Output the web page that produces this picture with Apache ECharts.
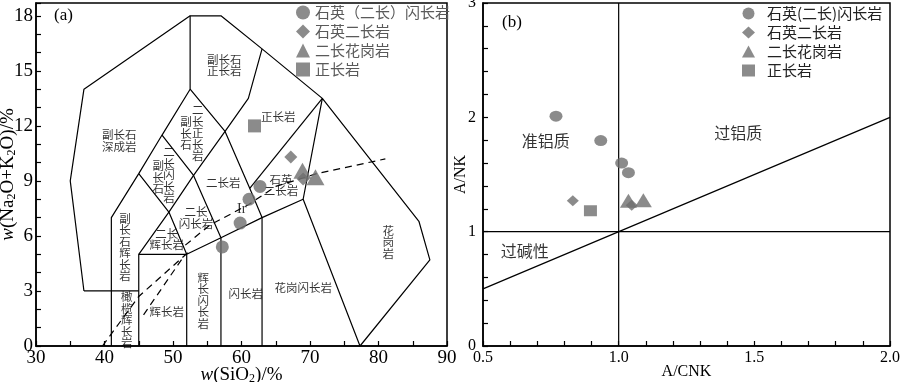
<!DOCTYPE html>
<html><head><meta charset="utf-8">
<script src="https://cdn.jsdelivr.net/npm/echarts@6.0.0/dist/echarts.min.js"></script>
<style>html,body{margin:0;padding:0;background:#fff}#c{width:900px;height:382px}</style>
</head><body><div id="c"></div>
<script>
// ---------------- DATA ----------------
// Panel (a): TAS (Middlemost 1994) field boundaries, SiO2 vs Na2O+K2O
const boundsA = [
  [[37,3],[35,9],[37,14],[52.5,18],[57,18],[63,16.2],[71.8,13.5],[85.9,6.8],[87.5,4.7],[77.3,0],[69,8],[71.8,13.5]],
  [[37,3],[45,3]],
  [[41,0],[41,7],[45,9.4],[48.4,11.5],[52.5,14],[52.5,18]],
  [[45,0],[45,5],[52,5],[52,0]],
  [[45,5],[49.4,7.3],[53,9.3],[57.6,11.7],[61,13.5],[63,16.2]],
  [[52,5],[49.4,7.3],[45,9.4]],
  [[48.4,11.5],[53,9.3],[57,5.9],[57,0]],
  [[52,5],[57,5.9],[63,7],[69,8]],
  [[52.5,14],[57.6,11.7],[61.2,8.6],[63,7],[63,0]],
  [[61.2,8.6],[71.8,13.5]]
];
const dashedA = [
  [[39.7,0],[45,2.7],[52.2,5.1]],
  [[45.7,1.7],[51.6,4.9]],
  [[51.8,5.5],[55.4,6.6],[61,7.7],[65,8.7],[71,9.4],[81,10.2]]
];
const fieldLabelsA = [
  [57.47,15.31,'副长石\n正长岩'],
  [65.37,12.48,'正长岩'],
  [42.14,11.19,'副长石\n深成岩'],
  [51.9,11.6,'副\n长\n石'],
  [53.6,11.62,'二\n长\n正\n长\n岩'],
  [47.85,9.18,'副\n长\n石'],
  [49.42,9.32,'二\n长\n闪\n长\n岩'],
  [57.35,8.89,'二长岩'],
  [65.77,8.78,'石英\n二长岩'],
  [43.0,5.4,'副\n长\n石\n辉\n长\n岩'],
  [53.36,7.0,'二长\n闪长岩'],
  [49.08,5.82,'二长\n辉长岩'],
  [43.24,1.42,'橄\n榄\n辉\n长\n岩'],
  [49.08,1.87,'辉长岩'],
  [54.43,2.5,'辉\n长\n闪\n长\n岩'],
  [60.63,2.87,'闪长岩'],
  [69.0,3.19,'花岗闪长岩'],
  [81.43,5.68,'花\n岗\n岩']
];
const irLabelA = [[60.03,7.44,'Ir']];
const namesA = ['石英（二长）闪长岩','石英二长岩','二长花岗岩','正长岩'];
const circA = [[57.2,5.4],[59.8,6.7],[61.1,8.0],[62.7,8.7]];
const diaA  = [[67.2,10.3],[69.0,9.1]];
const triA  = [[68.9,9.55],[70.8,9.2]];
const sqA   = [[61.9,12.0]];

// Panel (b): A/NK vs A/CNK
const linesB = [
  [[1,0],[1,3]],
  [[0.5,1],[2,1]],
  [[0.5,0.5],[2,2]]
];
const fieldLabelsB = [
  [0.731,1.797,'准铝质'],
  [1.441,1.867,'过铝质'],
  [0.654,0.833,'过碱性']
];
const namesB = ['石英(二长)闪长岩','石英二长岩 ','二长花岗岩 ','正长岩 '];
const circB = [[0.769,2.01],[0.934,1.797],[1.011,1.6],[1.036,1.516]];
const diaB  = [[0.831,1.271],[1.048,1.23]];
const triB  = [[1.036,1.27],[1.091,1.274]];
const sqB   = [[0.896,1.183]];

// ---------------- CHART ----------------
const SERIF = 'Liberation Serif';
const CJK = 'Noto Sans CJK SC';
const MC = '#6e6e6e';
const chart = echarts.init(document.getElementById('c'), null, {renderer:'canvas'});

function lineSeries(data, xi, dashed){
  return {type:'line', xAxisIndex:xi, yAxisIndex:xi, data:data, symbol:'none', silent:true,
    lineStyle:{color:'#000', width:1.2, type: dashed ? [7,5] : 'solid'}, z:2, animation:false};
}
function labelSeries(data, xi, fontSize, font, lh){
  return {type:'scatter', xAxisIndex:xi, yAxisIndex:xi, data:data, symbolSize:0.1, silent:true,
    itemStyle:{color:'transparent'}, z:3,
    label:{show:true, position:'inside', formatter:p=>p.data[2], color:'#000', fontSize:fontSize,
      fontFamily:font, lineHeight:lh, align:'center', verticalAlign:'middle'}};
}
function markSeries(name, data, xi, symbol, size){
  return {type:'scatter', name:name, xAxisIndex:xi, yAxisIndex:xi, data:data, symbol:symbol,
    symbolSize:size, itemStyle:{color:MC}, z:5};
}

const series = [];
boundsA.forEach(d=>series.push(lineSeries(d,0,false)));
dashedA.forEach(d=>series.push(lineSeries(d,0,true)));
series.push(labelSeries(fieldLabelsA,0,11.5,CJK,11.5));
series.push(labelSeries(irLabelA,0,14,SERIF,14));
series.push(markSeries(namesA[0],circA,0,'circle',13));
series.push(markSeries(namesA[1],diaA,0,'diamond',13));
series.push(markSeries(namesA[2],triA,0,'triangle',[18,16]));
series.push(markSeries(namesA[3],sqA,0,'rect',13));
linesB.forEach(d=>series.push(lineSeries(d,1,false)));
series.push(labelSeries(fieldLabelsB,1,16,CJK,16));
series.push(markSeries(namesB[0],circB,1,'circle',[13,11]));
series.push(markSeries(namesB[1],diaB,1,'diamond',[12,11]));
series.push(markSeries(namesB[2],triB,1,'triangle',[17,14]));
series.push(markSeries(namesB[3],sqB,1,'rect',[13,11]));

const axisCommon = {
  type:'value', splitLine:{show:false}, nameMoveOverlap:false,
  axisLine:{show:true, lineStyle:{color:'#000', width:1.5}},
  axisTick:{show:true, inside:true, length:5, lineStyle:{color:'#000', width:1.2}}
};
const isMult = (v,m)=>Math.abs(v/m - Math.round(v/m)) < 1e-6;
const subRich = (fs)=>({
  i:{fontFamily:SERIF, fontStyle:'italic', fontSize:fs, color:'#000'},
  s:{fontFamily:SERIF, fontSize:Math.round(fs*0.62), color:'#000', padding:[8,0,0,0]}
});

const option = {
  animation:false,
  backgroundColor:'#fff',
  title:[
    {text:'(a)', left:54, top:7, padding:0, textStyle:{fontFamily:SERIF, fontSize:17, fontWeight:'normal', color:'#000'}},
    {text:'(b)', left:502, top:14, padding:0, textStyle:{fontFamily:SERIF, fontSize:17, fontWeight:'normal', color:'#000'}}
  ],
  grid:[
    {left:36, right:453, top:3, bottom:36, show:true, borderColor:'#000', borderWidth:1.5, outerBoundsMode:'none', containLabel:false},
    {left:483, right:10, top:3, bottom:36, show:true, borderColor:'#000', borderWidth:1.5, outerBoundsMode:'none', containLabel:false}
  ],
  legend:[
    {data:namesA, orient:'vertical', left:296, top:5, itemWidth:14, itemHeight:14, itemGap:4, selectedMode:false, padding:0,
      textStyle:{fontFamily:CJK, fontSize:15, color:'#5a5a5a', lineHeight:15}},
    {data:namesB, orient:'vertical', left:742, top:6, itemWidth:13, itemHeight:12, itemGap:4, selectedMode:false, padding:0,
      textStyle:{fontFamily:CJK, fontSize:15, color:'#222', lineHeight:15, padding:[0,0,0,7]}}
  ],
  xAxis:[
    Object.assign({}, axisCommon, {gridIndex:0, min:30, max:90, interval:5,
      axisLabel:{formatter:v=>isMult(v,10)?String(v):'', fontFamily:SERIF, fontSize:19, color:'#000', margin:3},
      name:'{i|w}(SiO{s|2})/%', nameLocation:'middle', nameGap:19,
      nameTextStyle:{fontFamily:SERIF, fontSize:19, color:'#000', rich:subRich(19)}}),
    Object.assign({}, axisCommon, {gridIndex:1, min:0.5, max:2, interval:0.1,
      axisLabel:{formatter:v=>isMult(v,0.5)?v.toFixed(1):'', fontFamily:SERIF, fontSize:16, color:'#000', margin:4},
      name:'A/CNK', nameLocation:'middle', nameGap:18,
      nameTextStyle:{fontFamily:SERIF, fontSize:16, color:'#000'}})
  ],
  yAxis:[
    Object.assign({}, axisCommon, {gridIndex:0, min:0, max:18.7, interval:1,
      axisLabel:{formatter:v=>(isMult(v,3)&&v<=18.01)?String(Math.round(v)):'', fontFamily:SERIF, fontSize:19, color:'#000', margin:3},
      name:'{i|w}(Na{s|2}O+K{s|2}O)/%', nameLocation:'middle', nameGap:18,
      nameTextStyle:{fontFamily:SERIF, fontSize:19, color:'#000', rich:subRich(19)}}),
    Object.assign({}, axisCommon, {gridIndex:1, min:0, max:3, interval:0.2,
      axisLabel:{formatter:v=>isMult(v,1)?String(Math.round(v)):'', fontFamily:SERIF, fontSize:16, color:'#000', margin:7},
      name:'A/NK', nameLocation:'middle', nameGap:14,
      nameTextStyle:{fontFamily:SERIF, fontSize:16, color:'#000'}})
  ],
  series:series
};
chart.setOption(option);
</script>
</body></html>
